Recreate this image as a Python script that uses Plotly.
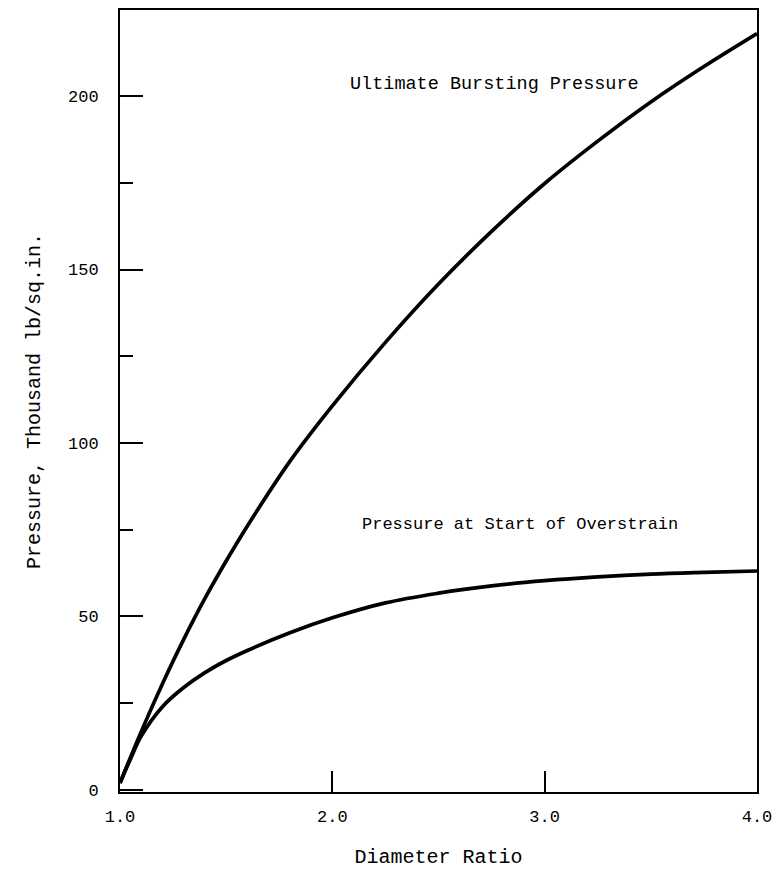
import plotly.graph_objects as go

# Diameter ratio (outside / inside) vs. pressure, thousand lb/sq.in.
ratio_burst = [1.0, 1.1, 1.2, 1.3, 1.4, 1.5, 1.6, 1.8, 2.0, 2.25, 2.5, 2.75, 3.0, 3.25, 3.5, 3.75, 4.0]
burst_pressure = [2, 16.8, 30.6, 43.4, 55.2, 66, 76.1, 94.7, 110.7, 129, 145.8, 161, 174.8, 187, 198.3, 208.5, 218]

ratio_over = [1.0, 1.05, 1.1, 1.2, 1.3, 1.4, 1.5, 1.6, 1.8, 2.0, 2.25, 2.5, 2.75, 3.0, 3.25, 3.5, 3.75, 4.0]
overstrain_pressure = [2, 9, 15.5, 24, 29.5, 33.8, 37.3, 40.2, 45.3, 49.6, 53.9, 56.7, 58.8, 60.3, 61.4, 62.2, 62.7, 63.1]

x_ticks = [1, 2, 3, 4]
x_tick_text = ["1.0", "2.0", "3.0", "4.0"]
y_ticks = [0, 50, 100, 150, 200]
y_tick_text = ["0", "50", "100", "150", "200"]

FONT = "Liberation Mono"

fig = go.Figure()
fig.add_trace(go.Scatter(x=ratio_burst, y=burst_pressure, mode="lines",
                         line=dict(color="black", width=3.7, shape="spline", smoothing=1.0),
                         showlegend=False, hoverinfo="skip"))
fig.add_trace(go.Scatter(x=ratio_over, y=overstrain_pressure, mode="lines",
                         line=dict(color="black", width=3.7, shape="spline", smoothing=1.0),
                         showlegend=False, hoverinfo="skip"))

fig.add_annotation(x=2.762, y=203.2, text="Ultimate Bursting Pressure", showarrow=False,
                   xanchor="center", yanchor="middle", font=dict(family=FONT, size=18.5, color="black"))
fig.add_annotation(x=2.884, y=76.4, text="Pressure at Start of Overstrain", showarrow=False,
                   xanchor="center", yanchor="middle", font=dict(family=FONT, size=17, color="black"))

fig.update_layout(
    width=772, height=869,
    margin=dict(l=120, r=15, t=10, b=77),
    paper_bgcolor="white", plot_bgcolor="white",
    font=dict(family=FONT, size=17, color="black"),
    xaxis=dict(range=[1, 4], tickvals=x_ticks, ticktext=x_tick_text,
               ticks="inside", ticklen=21, tickwidth=1.5, tickcolor="black",
               showline=True, linecolor="black", linewidth=2, mirror=True,
               showgrid=False, zeroline=False, ticklabelstandoff=8,
               ticklabeloverflow="allow", automargin=False,
               title=dict(text="Diameter Ratio", font=dict(family=FONT, size=20), standoff=26)),
    yaxis=dict(range=[-0.6, 224.8], tickvals=y_ticks, ticktext=y_tick_text,
               ticks="inside", ticklen=23, tickwidth=2, tickcolor="black",
               minor=dict(dtick=25, tick0=0, ticks="inside", ticklen=13, tickwidth=2, tickcolor="black"),
               showline=True, linecolor="black", linewidth=2, mirror=True,
               showgrid=False, zeroline=False, ticklabelstandoff=16,
               ticklabeloverflow="allow", automargin=False,
               title=dict(text="Pressure, Thousand lb/sq.in.", font=dict(family=FONT, size=20), standoff=22)),
)

fig.write_html("out.html")
